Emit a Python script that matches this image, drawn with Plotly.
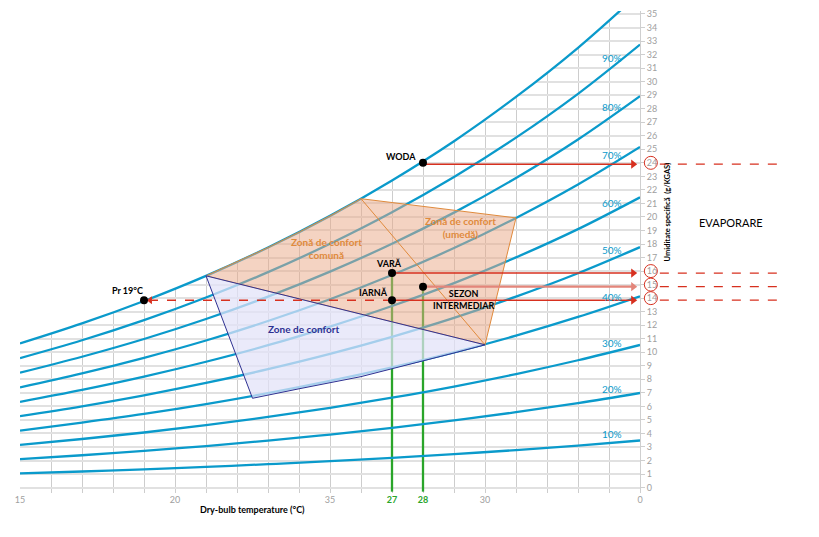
import numpy as np
import plotly.graph_objects as go

# dry-bulb temperature (°C) and humidity ratio (g/kg)
temps = [15, 17, 19, 21, 23, 25, 27, 29, 31, 33, 35]
w_rh100 = [10.65, 12.13, 13.79, 15.65, 17.74, 20.08, 22.70, 25.60, 28.87, 32.50, 36.58]
w_rh90 = [9.57, 10.89, 12.38, 14.05, 15.92, 18.02, 20.35, 22.95, 25.86, 29.10, 32.74]
w_rh80 = [8.49, 9.67, 10.98, 12.46, 14.11, 15.96, 18.02, 20.32, 22.88, 25.73, 28.93]
w_rh70 = [7.41, 8.44, 9.59, 10.87, 12.31, 13.92, 15.71, 17.70, 19.93, 22.40, 25.17]
w_rh60 = [6.34, 7.22, 8.20, 9.30, 10.52, 11.90, 13.42, 15.11, 17.01, 19.10, 21.45]
w_rh50 = [5.28, 6.01, 6.82, 7.73, 8.75, 9.88, 11.14, 12.54, 14.11, 15.84, 17.77]
w_rh40 = [4.21, 4.80, 5.44, 6.17, 6.98, 7.88, 8.88, 9.99, 11.23, 12.61, 14.14]
w_rh30 = [3.16, 3.59, 4.07, 4.61, 5.22, 5.89, 6.64, 7.47, 8.39, 9.41, 10.54]
w_rh20 = [2.10, 2.39, 2.71, 3.07, 3.47, 3.92, 4.41, 4.96, 5.57, 6.24, 6.99]
w_rh10 = [1.05, 1.19, 1.35, 1.53, 1.73, 1.95, 2.20, 2.47, 2.77, 3.10, 3.48]
rh_curves = [w_rh90, w_rh80, w_rh70, w_rh60, w_rh50, w_rh40, w_rh30, w_rh20, w_rh10]
rh_labels = ["90%", "80%", "70%", "60%", "50%", "40%", "30%", "20%", "10%"]

# comfort zones
orange_t = [21, 22, 23, 24, 25, 26, 31, 30, 21]
orange_w = [15.65, 16.67, 17.74, 18.88, 20.08, 21.35, 19.93, 10.55, 15.65]
split_t = [26, 30]
split_w = [21.35, 10.55]
blue_t = [21, 30, 29, 28, 27, 26, 24, 22.5, 21]
blue_w = [15.65, 10.55, 9.95, 9.35, 8.8, 8.2, 7.3, 6.6, 15.65]

# state points
pt_names = ["WODA", "VARĂ", "SEZON", "IARNĂ", "Pr 19°C"]
pt_t = [28, 27, 28, 27, 19]
pt_w = [24.0, 15.85, 14.85, 13.85, 13.85]
arrow_levels = [23.9, 15.85, 14.85, 13.85]
circled_ticks = [24, 16, 15, 14]
green_temps = [27, 28]
green_tops = [15.85, 14.85]

x_labels = {15: "15", 20: "20", 25: "35", 27: "27", 28: "28", 30: "30", 35: "0"}

BLUE = "#0a9acb"
RED = "#d7301f"
GREEN = "#2aa52a"
ORANGE = "#e08a3c"
NAVY = "#2e3192"
FONT = "Lato"

fig = go.Figure()

# white mask above the saturation curve (hides grid there)
fig.add_trace(go.Scatter(x=temps, y=[40] * len(temps), mode="lines",
                         line=dict(width=0, shape="spline"), hoverinfo="skip"))
fig.add_trace(go.Scatter(x=temps, y=w_rh100, mode="lines", fill="tonexty",
                         fillcolor="white", line=dict(color=BLUE, width=2.3, shape="spline"),
                         hoverinfo="skip"))

# green temperature lines
for t, top in zip(green_temps, green_tops):
    fig.add_trace(go.Scatter(x=[t, t], y=[-0.3, top], mode="lines",
                             line=dict(color=GREEN, width=2.3), hoverinfo="skip"))

for w in rh_curves:
    fig.add_trace(go.Scatter(x=temps, y=w, mode="lines",
                             line=dict(color=BLUE, width=2.3, shape="spline"),
                             hoverinfo="skip"))

fig.add_trace(go.Scatter(x=orange_t, y=orange_w, mode="lines", fill="toself",
                         fillcolor="rgba(234,168,134,0.5)",
                         line=dict(color=ORANGE, width=1), hoverinfo="skip"))
fig.add_trace(go.Scatter(x=split_t, y=split_w, mode="lines",
                         line=dict(color=ORANGE, width=1), hoverinfo="skip"))
fig.add_trace(go.Scatter(x=blue_t, y=blue_w, mode="lines", fill="toself",
                         fillcolor="rgba(226,226,248,0.72)",
                         line=dict(color=NAVY, width=1), hoverinfo="skip"))

# red arrows to the humidity axis
for i, (t, lvl) in enumerate(zip(pt_t[:4], arrow_levels)):
    col = "#e3857a" if i == 2 else RED
    fig.add_trace(go.Scatter(x=[t, 34.75], y=[lvl, lvl], mode="lines",
                             line=dict(color=col, width=2.4 if i == 2 else 1.5),
                             hoverinfo="skip"))
    fig.add_trace(go.Scatter(x=[34.78], y=[lvl], mode="markers",
                             marker=dict(symbol="triangle-right", size=8, color=col),
                             hoverinfo="skip"))

# dashed arrow from winter point to dew point
fig.add_trace(go.Scatter(x=[pt_t[3], pt_t[4] + 0.25], y=[pt_w[3], pt_w[4]], mode="lines",
                         line=dict(color=RED, width=1.5, dash="dash"), hoverinfo="skip"))
fig.add_trace(go.Scatter(x=[pt_t[4] + 0.2], y=[pt_w[4]], mode="markers",
                         marker=dict(symbol="triangle-left", size=7, color=RED),
                         hoverinfo="skip"))

fig.add_trace(go.Scatter(x=pt_t, y=pt_w, mode="markers",
                         marker=dict(color="black", size=8), hoverinfo="skip"))

ann = []
for lab, w in zip(rh_labels, rh_curves):
    ann.append(dict(x=34.1, y=float(np.interp(34.1, temps, w)), text=lab,
                    showarrow=False, yanchor="bottom", yshift=1,
                    font=dict(family=FONT, size=10, color=BLUE)))

bold = dict(family=FONT, size=9, color="black")
ann += [
    dict(x=pt_t[0], y=pt_w[0], text="<b>WODA</b>", showarrow=False, xanchor="right",
         xshift=-5, yshift=6, font=bold),
    dict(x=pt_t[1], y=pt_w[1], text="<b>VARĂ</b>", showarrow=False, xshift=-3,
         yanchor="bottom", yshift=2, font=bold),
    dict(x=pt_t[3], y=pt_w[3], text="<b>IARNĂ</b>", showarrow=False, xanchor="right",
         xshift=-2, yshift=8, font=bold),
    dict(x=29.3, y=13.9, text="<b>SEZON<br>INTERMEDIAR</b>", showarrow=False, font=bold),
    dict(x=pt_t[4], y=pt_w[4], text="<b>Pr 19°C</b>", showarrow=False, xanchor="right",
         xshift=1, yanchor="bottom", yshift=2, font=bold),
    dict(x=24.9, y=17.7, text="<b>Zonă de confort<br>comună</b>", showarrow=False,
         font=dict(family=FONT, size=10, color=ORANGE)),
    dict(x=29.2, y=19.2, text="<b>Zonă de confort<br>(umedă)</b>", showarrow=False,
         font=dict(family=FONT, size=10, color=ORANGE)),
    dict(x=24.15, y=11.7, text="<b>Zone de confort</b>", showarrow=False,
         font=dict(family=FONT, size=10, color=NAVY)),
    dict(x=1.147, xref="paper", xanchor="center", y=19.6, text="EVAPORARE",
         showarrow=False, font=dict(family=FONT, size=11, color="black")),
    dict(x=1.045, xref="paper", xanchor="center", y=20.4,
         text="<b>Umiditate specifică  (g/KGAS)</b>", textangle=-90, showarrow=False,
         font=dict(family=FONT, size=7.5, color="black")),
    dict(x=22.5, y=-0.0196, yref="paper", text="<b>Dry-bulb temperature (°C)</b>",
         showarrow=False, yanchor="top", font=dict(family=FONT, size=9, color="black")),
]

shapes = []
for v in circled_ticks:
    shapes.append(dict(type="circle", xref="paper", yref="y", x0=1.007, x1=1.028,
                       y0=v - 0.48, y1=v + 0.48, line=dict(color=RED, width=1)))
for lvl in arrow_levels:
    shapes.append(dict(type="line", xref="paper", yref="y", x0=1.032, x1=1.226,
                       y0=lvl, y1=lvl, line=dict(color=RED, width=1.2, dash="dash")))

tick_vals = list(range(15, 36))
tick_text = []
for t in tick_vals:
    s = x_labels.get(t, "")
    if t in green_temps:
        s = f"<b><span style='color:{GREEN}'>{s}</span></b>"
    tick_text.append(s)

fig.update_layout(
    width=819, height=537,
    margin=dict(l=12, r=187, t=0, b=51.5),
    paper_bgcolor="white", plot_bgcolor="white",
    showlegend=False,
    annotations=ann, shapes=shapes,
    xaxis=dict(range=[15, 35], tickmode="array", tickvals=tick_vals, ticktext=tick_text,
               showgrid=True, gridcolor="#cdcdcd", gridwidth=1, zeroline=False,
               ticks="", tickfont=dict(family=FONT, size=9, color="#a0a0a0")),
    yaxis=dict(range=[-0.4, 35.22], side="right", tickmode="linear", tick0=0, dtick=1,
               showgrid=True, gridcolor="#e1e1e1", gridwidth=2, zeroline=False,
               showline=True, linecolor="#cfcfcf", ticks="outside", ticklen=4,
               tickcolor="#cfcfcf", ticklabeloverflow="allow",
               tickfont=dict(family=FONT, size=9, color="#a0a0a0")),
)

fig.write_html("out.html")
